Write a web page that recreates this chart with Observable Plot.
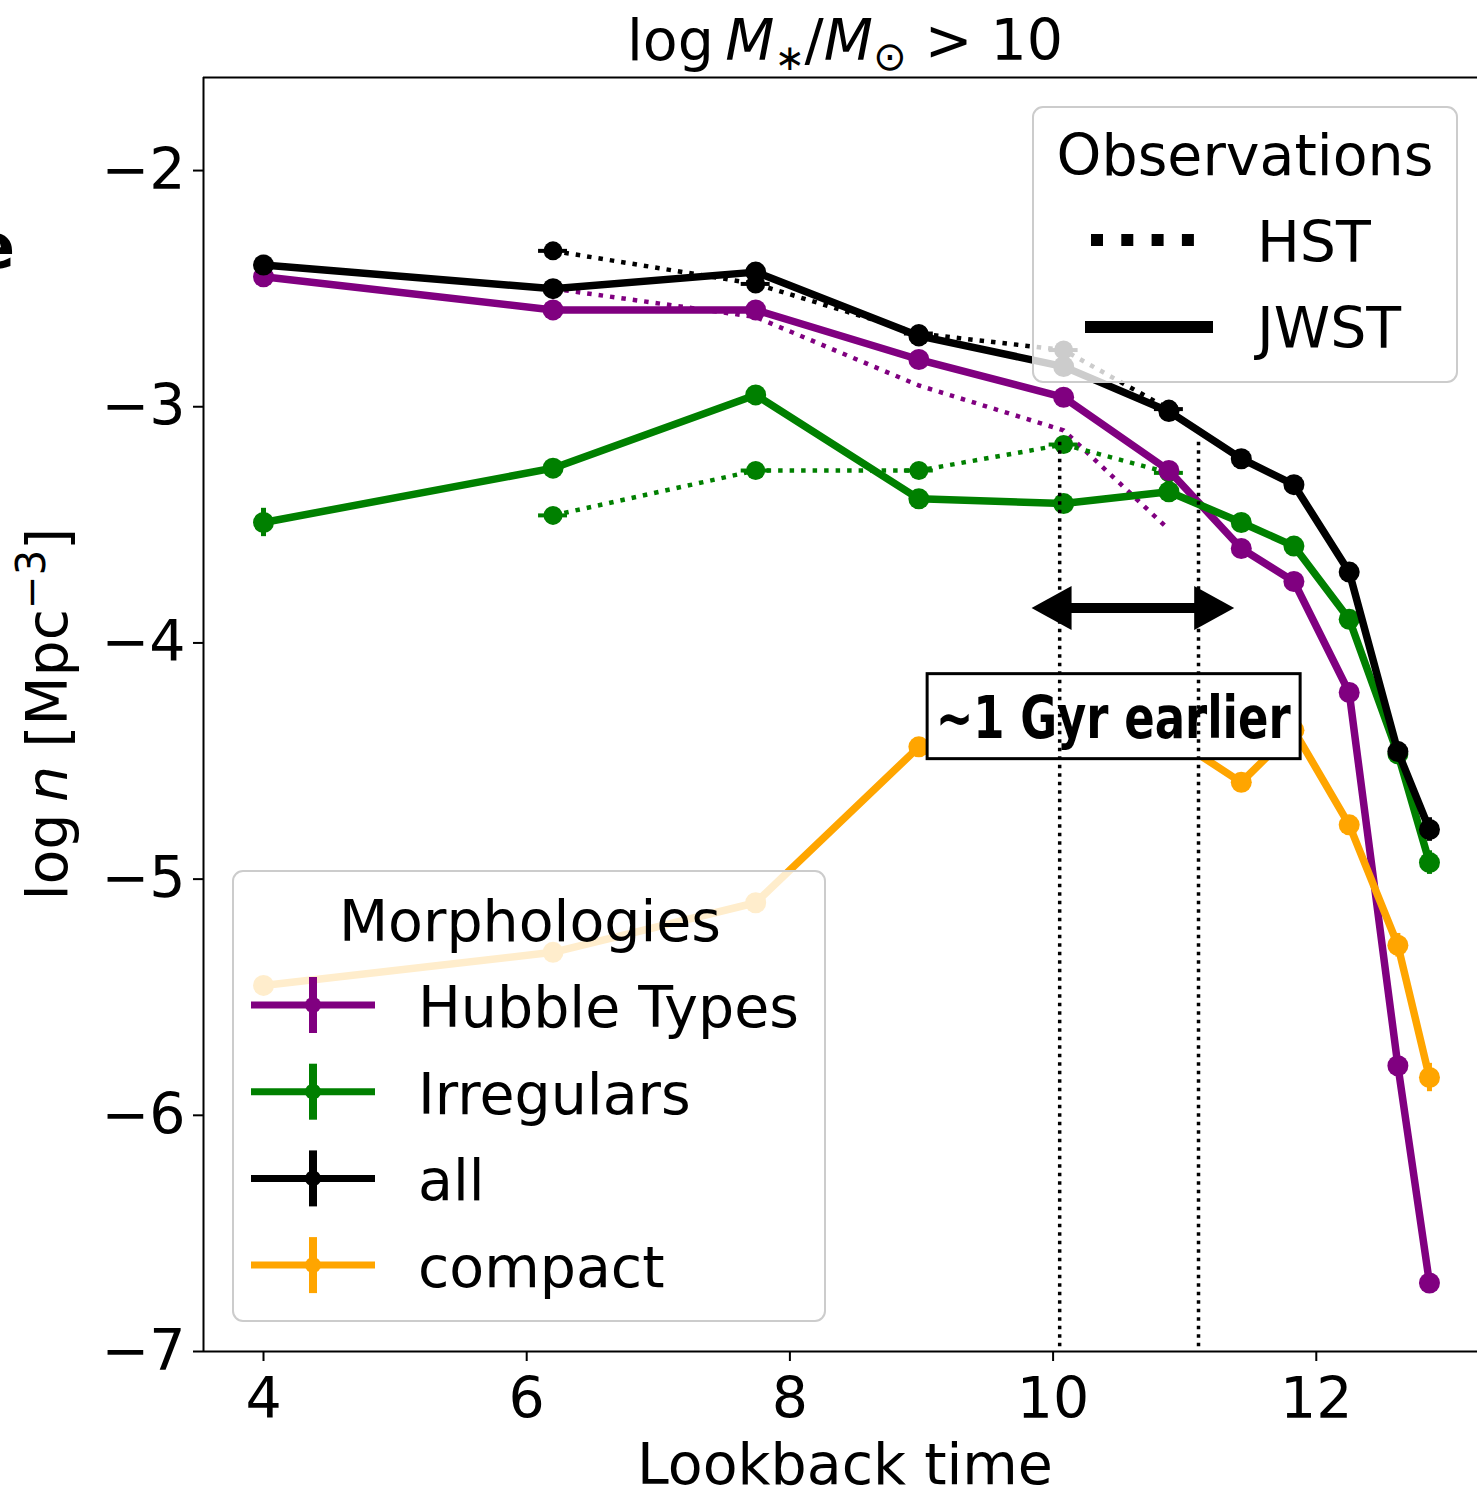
<!DOCTYPE html>
<html><head><meta charset="utf-8">
<script src="https://cdn.jsdelivr.net/npm/d3@7"></script>
<script src="https://cdn.jsdelivr.net/npm/@observablehq/plot@0.6"></script>
<style>body{margin:0;background:#fff;overflow:hidden} svg{display:block}</style>
</head><body><div id="chart"></div>
<script>
// ---------- data ----------
const tJWST = [4.0, 6.2, 7.74, 8.98, 10.08, 10.88, 11.43, 11.83, 12.25, 12.62, 12.86];
const hubbleJWST = [-2.45, -2.59, -2.59, -2.80, -2.96, -3.27, -3.60, -3.74, -4.21, -5.79, -6.71];
const irrJWST    = [-3.49, -3.26, -2.95, -3.39, -3.41, -3.36, -3.49, -3.59, -3.90, -4.47, -4.93];
const allJWST    = [-2.40, -2.50, -2.43, -2.70, -2.83, -3.02, -3.22, -3.33, -3.70, -4.46, -4.79];
const compactJWST= [-5.45, -5.31, -5.10, -4.44, -4.35, -4.39, -4.59, -4.37, -4.77, -5.28, -5.84];
const hubbleErr  = [0.02, 0.01, 0.01, 0.01, 0.01, 0.02, 0.02, 0.02, 0.03, 0.03, 0.03];
const irrErr     = [0.06, 0.03, 0.02, 0.02, 0.02, 0.02, 0.02, 0.02, 0.03, 0.03, 0.05];
const allErr     = [0.02, 0.01, 0.01, 0.01, 0.01, 0.02, 0.02, 0.02, 0.03, 0.04, 0.05];
const compactErr = [0.03, 0.03, 0.03, 0.03, 0.03, 0.03, 0.03, 0.03, 0.03, 0.05, 0.06];

const tHST = [6.2, 7.74, 8.98, 10.08, 10.88];
const hubbleHST = [-2.50, -2.62, -2.91, -3.10, -3.52];
const irrHST    = [-3.46, -3.27, -3.27, -3.16, -3.28];
const allHST    = [-2.34, -2.48, -2.69, -2.76, -3.01];

const seriesNames = ["Hubble Types", "Irregulars", "all", "compact"];
const seriesColors = ["purple", "green", "black", "orange"];

const xTicks = [4, 6, 8, 10, 12];
const yTicks = [-2, -3, -4, -5, -6, -7];
const xDomain = [3.544, 13.225];
const yDomain = [-7, -1.606];

const gapLines = [10.05, 11.105];     // vertical dotted markers
const gapTop = -3.15;
const arrowFrom = 9.84, arrowTo = 11.38, arrowY = -3.854;
const noteText = "~1 Gyr earlier";
const noteX = 10.46, noteY = -4.31;
const obsLabels = ["HST", "JWST"];

// ---------- tidy ----------
const jwst = [hubbleJWST, irrJWST, allJWST, compactJWST];
const errs = [hubbleErr, irrErr, allErr, compactErr];
const hst = [hubbleHST, irrHST, allHST, null];
const hstMarkers = [false, true, true, false];

const font = "DejaVu Sans, sans-serif";
const marks = [];

// HST dotted
hst.forEach((vals, k) => {
  if (!vals) return;
  const rows = tHST.map((t, i) => ({t, v: vals[i]}));
  marks.push(Plot.line(rows, {x: "t", y: "v", stroke: seriesColors[k], strokeWidth: 4.5, strokeDasharray: "4.5,7", strokeLinecap: "butt"}));
  if (hstMarkers[k]) {
    marks.push(Plot.ruleY(rows, {y: "v", x1: d => d.t - 0.11, x2: d => d.t + 0.11, stroke: seriesColors[k], strokeWidth: 4}));
    marks.push(Plot.dot(rows, {x: "t", y: "v", r: 9.5, fill: seriesColors[k]}));
  }
});
// JWST solid
jwst.forEach((vals, k) => {
  const rows = tJWST.map((t, i) => ({t, v: vals[i], e: errs[k][i]}));
  marks.push(Plot.line(rows, {x: "t", y: "v", stroke: seriesColors[k], strokeWidth: 7.5}));
  marks.push(Plot.ruleX(rows, {x: "t", y1: d => d.v - d.e, y2: d => d.v + d.e, stroke: seriesColors[k], strokeWidth: 5}));
  marks.push(Plot.dot(rows, {x: "t", y: "v", r: 10.5, fill: seriesColors[k]}));
});

// annotation box
marks.push((index, scales) => {
  const g = d3.create("svg:g");
  const cx = scales.x(noteX), cy = scales.y(noteY);
  g.append("rect").attr("x", cx - 186).attr("y", cy - 42).attr("width", 373).attr("height", 85)
    .attr("fill", "white").attr("stroke", "black").attr("stroke-width", 3);
  g.append("text").attr("x", cx).attr("y", cy + 22).attr("text-anchor", "middle")
    .attr("font-family", "DejaVu Sans Condensed, Liberation Sans Narrow, DejaVu Sans, sans-serif")
    .attr("font-weight", "bold").attr("font-size", 58)
    .attr("textLength", 355).attr("lengthAdjust", "spacingAndGlyphs").text(noteText);
  return g.node();
});
// vertical dotted lines
marks.push(Plot.ruleX(gapLines, {y1: gapTop, y2: yDomain[0], stroke: "black", strokeWidth: 3.5, strokeDasharray: "3.5,5"}));
// double arrow
marks.push((index, scales) => {
  const g = d3.create("svg:g");
  const xa = scales.x(arrowFrom), xb = scales.x(arrowTo), y = scales.y(arrowY);
  const hl = 40, hw = 22;
  g.append("line").attr("x1", xa + hl - 2).attr("x2", xb - hl + 2).attr("y1", y).attr("y2", y)
    .attr("stroke", "black").attr("stroke-width", 10);
  g.append("path").attr("d", `M${xa},${y}L${xa + hl},${y - hw}L${xa + hl},${y + hw}Z`).attr("fill", "black");
  g.append("path").attr("d", `M${xb},${y}L${xb - hl},${y - hw}L${xb - hl},${y + hw}Z`).attr("fill", "black");
  return g.node();
});

// frame
marks.push(Plot.ruleX([xDomain[0]], {stroke: "black", strokeWidth: 2}));
marks.push(Plot.ruleY([yDomain[0], yDomain[1]], {stroke: "black", strokeWidth: 2}));
marks.push(Plot.axisX({ticks: xTicks, tickSize: 10, tickPadding: 16, fontSize: 57, label: null, strokeWidth: 2}));
marks.push(Plot.axisY({ticks: yTicks, tickSize: 10, tickPadding: 8, fontSize: 57, label: null, strokeWidth: 2,
  tickFormat: d => "\u2212" + Math.abs(d)}));

// legends
marks.push(() => {
  const g = d3.create("svg:g").attr("font-family", font).attr("font-size", 57).attr("text-anchor", "start");
  // Observations
  g.append("rect").attr("x", 1033).attr("y", 107).attr("width", 424).attr("height", 275).attr("rx", 10)
    .attr("fill", "white").attr("fill-opacity", 0.8).attr("stroke", "#cccccc").attr("stroke-width", 2);
  g.append("text").attr("x", 1245).attr("y", 175).attr("text-anchor", "middle").text("Observations");
  g.append("line").attr("x1", 1091).attr("x2", 1196).attr("y1", 240).attr("y2", 240)
    .attr("stroke", "black").attr("stroke-width", 12).attr("stroke-dasharray", "12,18.3");
  g.append("text").attr("x", 1257).attr("y", 262).attr("text-anchor", "start").text(obsLabels[0]);
  g.append("line").attr("x1", 1085).attr("x2", 1213).attr("y1", 327).attr("y2", 327)
    .attr("stroke", "black").attr("stroke-width", 12);
  g.append("text").attr("x", 1257).attr("y", 348).attr("text-anchor", "start").text(obsLabels[1]);
  // Morphologies
  g.append("rect").attr("x", 233).attr("y", 871).attr("width", 592).attr("height", 450).attr("rx", 10)
    .attr("fill", "white").attr("fill-opacity", 0.8).attr("stroke", "#cccccc").attr("stroke-width", 2);
  g.append("text").attr("x", 530).attr("y", 941).attr("text-anchor", "middle").text("Morphologies");
  seriesNames.forEach((name, k) => {
    const y = 1005 + k * 86.7;
    const c = seriesColors[k];
    g.append("line").attr("x1", 251).attr("x2", 375).attr("y1", y).attr("y2", y).attr("stroke", c).attr("stroke-width", 7);
    g.append("line").attr("x1", 313).attr("x2", 313).attr("y1", y - 28).attr("y2", y + 28).attr("stroke", c).attr("stroke-width", 8);
    g.append("circle").attr("cx", 313).attr("cy", y).attr("r", 8).attr("fill", c);
    g.append("text").attr("x", 418).attr("y", y + 22).attr("text-anchor", "start").text(name);
  });
  return g.node();
});

// title and axis labels
marks.push(() => {
  const g = d3.create("svg:g").attr("font-family", font).attr("font-size", 57).attr("fill", "black");
  const t = g.append("text").attr("x", 845).attr("y", 60).attr("text-anchor", "middle");
  t.append("tspan").text("log\u2009");
  t.append("tspan").attr("font-style", "italic").text("M");
  t.append("tspan").attr("font-size", 36).attr("dy", 10).text("\u2217");
  t.append("tspan").attr("dy", -10).text("/");
  t.append("tspan").attr("font-style", "italic").text("M");
  t.append("tspan").attr("font-size", 40).attr("dy", 10).text("\u2299");
  t.append("tspan").attr("dy", -10).text(" > 10");

  g.append("text").attr("x", 845).attr("y", 1484).attr("text-anchor", "middle").text("Lookback time");

  const yl = g.append("text").attr("transform", "translate(67,714) rotate(-90)").attr("text-anchor", "middle");
  yl.append("tspan").text("log\u2009");
  yl.append("tspan").attr("font-style", "italic").text("n");
  yl.append("tspan").text(" [Mpc");
  yl.append("tspan").attr("font-size", 40).attr("dy", -22).text("\u22123");
  yl.append("tspan").attr("dy", 22).text("]");

  // clipped glyph from neighbouring panel
  g.append("text").attr("x", -27).attr("y", 268).attr("text-anchor", "start").attr("font-weight", "bold").attr("font-size", 62).text("e");
  return g.node();
});

const chart = Plot.plot({
  width: 1477, height: 1493,
  marginLeft: 203, marginRight: 0, marginTop: 77, marginBottom: 142,
  x: {domain: xDomain},
  y: {domain: yDomain},
  style: {fontFamily: font, fontSize: "57px", color: "black", background: "white", overflow: "visible"},
  marks
});
document.getElementById("chart").appendChild(chart);
</script></body></html>
